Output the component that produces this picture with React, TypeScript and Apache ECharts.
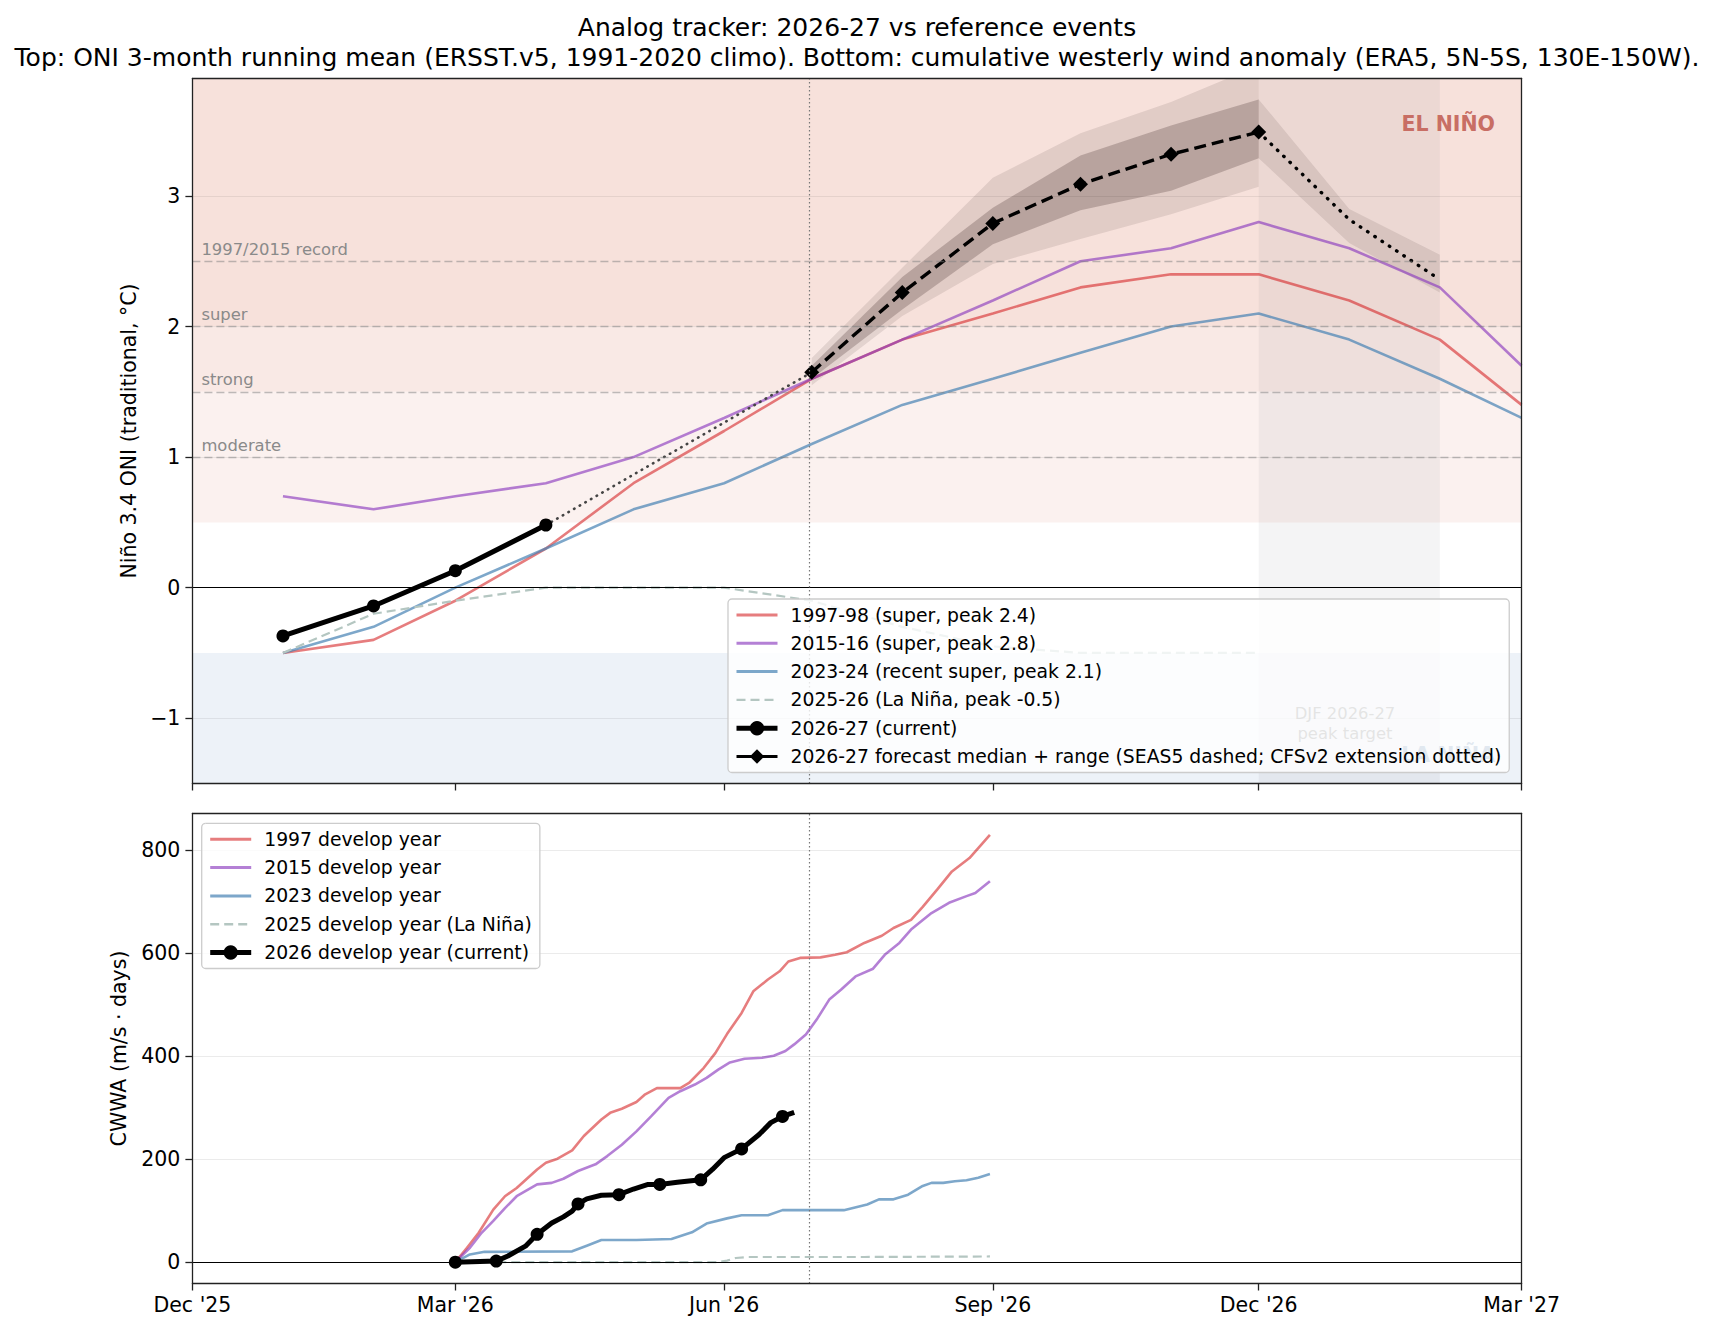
import React, { useEffect, useRef } from 'react';
import * as echarts from 'echarts';

const FONT = 'DejaVu Sans';

// ---------- TOP PANEL DATA (ONI, °C) ----------
const ONI_MONTHS = ['2026-01-01','2026-02-01','2026-03-01','2026-04-01','2026-05-01','2026-06-01','2026-07-01','2026-08-01','2026-09-01','2026-10-01','2026-11-01','2026-12-01','2027-01-01','2027-02-01','2027-03-01'];
const ONI_1997 = [-0.5,-0.4,-0.1,0.3,0.8,1.2,1.6,1.9,2.1,2.3,2.4,2.4,2.2,1.9,1.4];
const ONI_2015 = [0.7,0.6,0.7,0.8,1.0,1.3,1.6,1.9,2.2,2.5,2.6,2.8,2.6,2.3,1.7];
const ONI_2023 = [-0.5,-0.3,0.0,0.3,0.6,0.8,1.1,1.4,1.6,1.8,2.0,2.1,1.9,1.6,1.3];
const ONI_2025 = [-0.5,-0.2,-0.1,0.0,0.0,0.0,-0.1,-0.3,-0.45,-0.5,-0.5,-0.5];
const CUR_MONTHS = ['2026-01-01','2026-02-01','2026-03-01','2026-04-01'];
const ONI_2026 = [-0.37,-0.14,0.13,0.48];
const FC_MONTHS = ['2026-07-01','2026-08-01','2026-09-01','2026-10-01','2026-11-01','2026-12-01'];
const FC_MEDIAN = [1.65,2.26,2.79,3.09,3.32,3.49];
const FC_INNER_LO = [1.60,2.13,2.63,2.89,3.04,3.29];
const FC_INNER_HI = [1.70,2.38,2.91,3.31,3.54,3.74];
const FC_OUTER_LO = [1.55,2.08,2.48,2.67,2.86,3.07];
const FC_OUTER_HI = [1.76,2.45,3.14,3.48,3.72,4.00];
const EXT_MONTHS = ['2026-12-01','2027-01-01','2027-02-01'];
const EXT_MEDIAN = [3.49,2.82,2.36];
const EXT_LO = [3.29,2.64,2.26];
const EXT_HI = [3.74,2.90,2.55];
const THRESHOLDS = [
  { value: 1.0, label: 'moderate' },
  { value: 1.5, label: 'strong' },
  { value: 2.0, label: 'super' },
  { value: 2.5, label: '1997/2015 record' },
];
const TODAY = '2026-06-30';
const DJF = ['2026-12-01', '2027-02-01'];
const X_TICKS = ['2025-12-01','2026-03-01','2026-06-01','2026-09-01','2026-12-01','2027-03-01'];
const ONI_TICKS = [-1, 0, 1, 2, 3];
const CWWA_TICKS = [0, 200, 400, 600, 800];

// ---------- BOTTOM PANEL DATA (CWWA, m/s·days), [days since 1 Mar, value] ----------
const CWWA_1997 = [[0,0],[4,28],[8,57],[13,102],[17,128],[21,144],[28,180],[31,193],[35,201],[40,217],[44,245],[50,277],[53,290],[57,298],[62,311],[65,326],[69,338],[77,338],[80,348],[85,377],[89,406],[93,443],[98,484],[102,526],[107,549],[111,565],[114,584],[118,591],[125,592],[130,597],[134,602],[140,620],[146,634],[150,649],[156,665],[160,690],[165,724],[170,759],[176,785],[183,830]];
const CWWA_2015 = [[0,0],[5,28],[9,57],[13,80],[17,105],[21,128],[28,151],[33,154],[37,162],[42,177],[48,190],[52,206],[57,228],[62,254],[67,283],[73,319],[77,332],[82,345],[86,358],[90,374],[94,388],[99,395],[105,397],[109,401],[113,410],[116,423],[120,442],[124,474],[128,510],[132,529],[137,555],[143,570],[147,597],[152,620],[156,646],[163,678],[169,698],[175,711],[178,717],[183,740]];
const CWWA_2023 = [[0,0],[5,15],[10,20],[40,21],[45,32],[50,43],[62,43],[74,45],[81,58],[86,75],[93,85],[98,91],[107,91],[112,101],[133,101],[141,112],[145,122],[150,122],[155,131],[160,148],[163,154],[167,154],[171,157],[175,159],[179,164],[183,171]];
const CWWA_2025 = [[0,0],[90,0],[93,3],[96,8],[100,10],[140,10],[183,11]];
const CWWA_2026 = [[0,0],[14,2],[18,12],[24,31],[28,54],[33,76],[37,88],[40,99],[42,113],[45,123],[50,130],[56,131],[61,142],[66,151],[70,151],[76,155],[84,160],[88,180],[92,203],[98,220],[104,248],[108,271],[112,283],[116,291]];
const CWWA_2026_MARKER_DAYS = [0,14,28,42,56,70,84,98,112];

// ---------- helpers ----------
const MON = ['Jan','Feb','Mar','Apr','May','Jun','Jul','Aug','Sep','Oct','Nov','Dec'];
const ts = (s: string) => { const [y, m, d] = s.split('-').map(Number); return Date.UTC(y, m - 1, d); };
const dayTs = (d: number) => Date.UTC(2026, 2, 1 + d);
const pairs = (dates: string[], vals: number[]) => vals.map((v, i) => [ts(dates[i]), v]);
const dayPairs = (arr: number[][]) => arr.map(([d, v]) => [dayTs(d), v]);

const C_RED = 'rgb(214,39,40)';
const C_PUR = 'rgb(140,60,190)';
const C_BLU = 'rgb(70,130,180)';
const C_GRY = '#b4c6c1';

const X_MIN = ts('2025-12-01');
const X_MAX = ts('2027-03-01');
const GRID_L = 192.4;
const GRID_W = 1329.2;

const LEGEND_T = ['1997-98 (super, peak 2.4)','2015-16 (super, peak 2.8)','2023-24 (recent super, peak 2.1)','2025-26 (La Niña, peak -0.5)','2026-27 (current)','2026-27 forecast median + range (SEAS5 dashed; CFSv2 extension dotted)'];
const LEGEND_B = ['1997 develop year','2015 develop year','2023 develop year','2025 develop year (La Niña)','2026 develop year (current)'];

function xAxisFor(gridIndex: number, labels: boolean) {
  const tv = X_TICKS.map(ts);
  return {
    type: 'value', gridIndex, min: X_MIN, max: X_MAX, z: 10,
    axisLine: { show: true, onZero: false, lineStyle: { color: '#222', width: 1.3 } },
    axisTick: { show: true, customValues: tv, length: 7, lineStyle: { color: '#222', width: 1.3 } },
    axisLabel: {
      show: labels, customValues: tv, margin: 11, fontSize: 20.5, color: '#000', fontFamily: FONT,
      formatter: (v: number) => { const d = new Date(v); return MON[d.getUTCMonth()] + " '" + String(d.getUTCFullYear()).slice(2); },
    },
    splitLine: { show: false },
  };
}
function frameAxisX(gridIndex: number) {
  return { type: 'value', gridIndex, position: 'top', min: X_MIN, max: X_MAX, z: 10,
    axisLine: { show: true, onZero: false, lineStyle: { color: '#222', width: 1.3 } },
    axisTick: { show: false }, axisLabel: { show: false }, splitLine: { show: false } };
}
function frameAxisY(gridIndex: number, min: number, max: number) {
  return { type: 'value', gridIndex, position: 'right', min, max, z: 10,
    axisLine: { show: true, onZero: false, lineStyle: { color: '#222', width: 1.3 } },
    axisTick: { show: false }, axisLabel: { show: false }, splitLine: { show: false } };
}

function buildOption() {
  const series: any[] = [];
  const helper = (xi: number, yi: number, extra: any) => ({ type: 'line', xAxisIndex: xi, yAxisIndex: yi, data: [], silent: true, symbol: 'none', ...extra });

  // --- top background ---
  series.push(helper(0, 0, {
    z: 1,
    markArea: { silent: true, data: [
      [{ yAxis: 0.5, itemStyle: { color: '#fbf1ef' } }, { yAxis: 1.5 }],
      [{ yAxis: 1.5, itemStyle: { color: '#f9e9e5' } }, { yAxis: 2.0 }],
      [{ yAxis: 2.0, itemStyle: { color: '#f7e1db' } }, { yAxis: 3.9 }],
      [{ yAxis: -1.5, itemStyle: { color: '#edf2f8' } }, { yAxis: -0.5 }],
      [{ xAxis: ts(DJF[0]), itemStyle: { color: 'rgba(100,100,120,0.07)' } }, { xAxis: ts(DJF[1]) }],
    ] },
  }));
  // gridlines + zero line
  series.push(helper(0, 0, {
    z: 1,
    markLine: { silent: true, symbol: ['none', 'none'], label: { show: false },
      data: ONI_TICKS.map(v => ({ yAxis: v, lineStyle: v === 0 ? { color: '#000', width: 1.2, type: 'solid' } : { color: 'rgba(0,0,0,0.07)', width: 1.2, type: 'solid' } })) },
  }));
  // thresholds
  series.push(helper(0, 0, {
    z: 1,
    markLine: { silent: true, symbol: ['none', 'none'],
      lineStyle: { color: 'rgba(128,128,128,0.5)', width: 1.4, type: [8, 4] },
      label: { show: true, position: 'insideStartTop', color: '#8a8a8a', fontSize: 16.4, fontFamily: FONT, distance: [9, 4] },
      data: THRESHOLDS.map(t => ({ yAxis: t.value, label: { formatter: t.label } })) },
  }));
  // today line (top)
  series.push(helper(0, 0, {
    z: 1,
    markLine: { silent: true, symbol: ['none', 'none'], label: { show: false },
      lineStyle: { color: '#777', width: 1.2, type: [1.5, 2.5] }, data: [{ xAxis: ts(TODAY) }] },
  }));

  // forecast range bands (polygons through the axis scales)
  const band = (dates: string[], lo: number[], hi: number[], color: string) => ({
    type: 'custom', xAxisIndex: 0, yAxisIndex: 0, z: 2, silent: true, clip: true,
    data: [[ts(dates[0]), lo[0]]],
    renderItem: (params: any, api: any) => {
      const pts: number[][] = [];
      dates.forEach((d, i) => pts.push(api.coord([ts(d), hi[i]])));
      for (let i = dates.length - 1; i >= 0; i--) pts.push(api.coord([ts(dates[i]), lo[i]]));
      const cs = params.coordSys;
      return {
        type: 'polygon', shape: { points: pts }, style: { fill: color },
        clipPath: { type: 'rect', shape: { x: cs.x, y: cs.y, width: cs.width, height: cs.height } },
      };
    },
  });
  series.push(band(FC_MONTHS, FC_OUTER_LO, FC_OUTER_HI, 'rgba(40,20,20,0.1)'));
  series.push(band(FC_MONTHS, FC_INNER_LO, FC_INNER_HI, 'rgba(40,20,20,0.22)'));
  series.push(band(EXT_MONTHS, EXT_LO, EXT_HI, 'rgba(40,20,20,0.1)'));

  const line = (name: string, xi: number, yi: number, data: any[], color: string, width: number, opacity: number, type: any = 'solid', extra: any = {}) => ({
    type: 'line', name, xAxisIndex: xi, yAxisIndex: yi, z: 3, silent: true, symbol: 'none', data,
    lineStyle: { color, width, opacity, type }, itemStyle: { color, opacity }, ...extra,
  });

  series.push(line(LEGEND_T[0], 0, 0, pairs(ONI_MONTHS, ONI_1997), C_RED, 2.6, 0.6));
  series.push(line(LEGEND_T[1], 0, 0, pairs(ONI_MONTHS, ONI_2015), C_PUR, 2.6, 0.65));
  series.push(line(LEGEND_T[2], 0, 0, pairs(ONI_MONTHS, ONI_2023), C_BLU, 2.6, 0.7));
  series.push(line(LEGEND_T[3], 0, 0, pairs(ONI_MONTHS.slice(0, ONI_2025.length), ONI_2025), C_GRY, 2.2, 1, [9, 5]));
  // connector current -> forecast
  series.push(line('connector', 0, 0, [[ts(CUR_MONTHS[CUR_MONTHS.length - 1]), ONI_2026[ONI_2026.length - 1]], [ts(FC_MONTHS[0]), FC_MEDIAN[0]]], '#444', 2.6, 1, [0.5, 6], { lineStyle: { color: '#444', width: 2.6, type: [0.5, 6], cap: 'round' } }));
  // extension dotted
  series.push(line('extension', 0, 0, pairs(EXT_MONTHS, EXT_MEDIAN), '#000', 3.4, 1, [0.5, 8.2], { lineStyle: { color: '#000', width: 3.4, type: [0.5, 8.2], cap: 'round' } }));
  series.push(line(LEGEND_T[4], 0, 0, pairs(CUR_MONTHS, ONI_2026), '#000', 5, 1, 'solid', { symbol: 'circle', symbolSize: 13, showSymbol: true, z: 4 }));
  series.push(line(LEGEND_T[5], 0, 0, pairs(FC_MONTHS, FC_MEDIAN), '#000', 3.4, 1, [12, 6], { symbol: 'diamond', symbolSize: 15, showSymbol: true, z: 4 }));

  // --- bottom panel ---
  series.push(helper(1, 1, {
    z: 1,
    markLine: { silent: true, symbol: ['none', 'none'], label: { show: false },
      data: CWWA_TICKS.map(v => ({ yAxis: v, lineStyle: v === 0 ? { color: '#000', width: 1.2, type: 'solid' } : { color: 'rgba(0,0,0,0.08)', width: 1.2, type: 'solid' } })) },
  }));
  series.push(helper(1, 1, {
    z: 1,
    markLine: { silent: true, symbol: ['none', 'none'], label: { show: false },
      lineStyle: { color: '#777', width: 1.2, type: [1.5, 2.5] }, data: [{ xAxis: ts(TODAY) }] },
  }));
  series.push(line(LEGEND_B[0], 1, 1, dayPairs(CWWA_1997), C_RED, 2.6, 0.6));
  series.push(line(LEGEND_B[1], 1, 1, dayPairs(CWWA_2015), C_PUR, 2.6, 0.65));
  series.push(line(LEGEND_B[2], 1, 1, dayPairs(CWWA_2023), C_BLU, 2.6, 0.7));
  series.push(line(LEGEND_B[3], 1, 1, dayPairs(CWWA_2025), C_GRY, 2.2, 1, [9, 5]));
  series.push(line(LEGEND_B[4], 1, 1,
    CWWA_2026.map(([d, v]) => CWWA_2026_MARKER_DAYS.includes(d) ? { value: [dayTs(d), v] } : { value: [dayTs(d), v], symbol: 'none' }),
    '#000', 5, 1, 'solid', { symbol: 'circle', symbolSize: 13, showSymbol: true, showAllSymbol: true, z: 4 }));

  const legendCommon = {
    orient: 'vertical', itemWidth: 41, itemHeight: 18, itemGap: 6.3,
    backgroundColor: 'rgba(255,255,255,0.8)', borderColor: '#cccccc', borderWidth: 1.3, borderRadius: 4,
    textStyle: { fontSize: 18.8, color: '#000', fontFamily: FONT, lineHeight: 22, padding: [0, 0, 0, 8] },
    selectedMode: false, z: 6,
  };
  const lineOnly = (n: string, dashed = false) => ({ name: n, itemStyle: { opacity: 0 }, lineStyle: { width: dashed ? 2.4 : 3 } });
  const legendTop = [
    lineOnly(LEGEND_T[0]), lineOnly(LEGEND_T[1]), lineOnly(LEGEND_T[2]), lineOnly(LEGEND_T[3], true),
    { name: LEGEND_T[4], lineStyle: { width: 5 } },
    { name: LEGEND_T[5], lineStyle: { width: 2.8, type: 'solid' } },
  ];
  const legendBottom = [
    lineOnly(LEGEND_B[0]), lineOnly(LEGEND_B[1]), lineOnly(LEGEND_B[2]), lineOnly(LEGEND_B[3], true),
    { name: LEGEND_B[4], lineStyle: { width: 5 } },
  ];

  return {
    animation: false,
    backgroundColor: '#fff',
    textStyle: { fontFamily: FONT },
    title: [
      { text: 'Analog tracker: 2026-27 vs reference events', left: 'center', top: 12, padding: 0,
        textStyle: { fontSize: 25, fontWeight: 'normal', color: '#000', lineHeight: 30, fontFamily: FONT } },
      { text: 'Top: ONI 3-month running mean (ERSST.v5, 1991-2020 climo). Bottom: cumulative westerly wind anomaly (ERA5, 5N-5S, 130E-150W).', left: 'center', top: 42, padding: 0,
        textStyle: { fontSize: 25, fontWeight: 'normal', color: '#000', lineHeight: 30, fontFamily: FONT } },
    ],
    grid: [
      { left: GRID_L, top: 78.5, width: GRID_W, height: 705, show: false, containLabel: false },
      { left: GRID_L, top: 813.5, width: GRID_W, height: 470, show: false, containLabel: false },
    ],
    xAxis: [xAxisFor(0, false), xAxisFor(1, true), frameAxisX(0), frameAxisX(1)],
    yAxis: [
      {
        type: 'value', gridIndex: 0, min: -1.5, max: 3.9, z: 10,
        name: 'Niño 3.4 ONI (traditional, °C)', nameLocation: 'middle', nameGap: 52,
        nameTextStyle: { fontSize: 20.5, color: '#000', fontFamily: FONT },
        axisLine: { show: true, onZero: false, lineStyle: { color: '#222', width: 1.3 } },
        axisTick: { show: true, customValues: ONI_TICKS, length: 7, lineStyle: { color: '#222', width: 1.3 } },
        axisLabel: { customValues: ONI_TICKS, margin: 12, fontSize: 20.5, color: '#000', fontFamily: FONT,
          formatter: (v: number) => (v < 0 ? '\u2212' + Math.abs(v) : String(v)) },
        splitLine: { show: false },
      },
      {
        type: 'value', gridIndex: 1, min: -41.5, max: 871.5, z: 10,
        name: 'CWWA (m/s · days)', nameLocation: 'middle', nameGap: 63,
        nameTextStyle: { fontSize: 20.5, color: '#000', fontFamily: FONT },
        axisLine: { show: true, onZero: false, lineStyle: { color: '#222', width: 1.3 } },
        axisTick: { show: true, customValues: CWWA_TICKS, length: 7, lineStyle: { color: '#222', width: 1.3 } },
        axisLabel: { customValues: CWWA_TICKS, margin: 12, fontSize: 20.5, color: '#000', fontFamily: FONT },
        splitLine: { show: false },
      },
      frameAxisY(0, -1.5, 3.9),
      frameAxisY(1, -41.5, 871.5),
    ],
    legend: [
      { ...legendCommon, data: legendTop, left: 728, top: 599, padding: [5, 8, 5, 6] },
      { ...legendCommon, data: legendBottom, left: 201.7, top: 823.3, padding: [5, 8, 5, 6] },
    ],
    graphic: [
      { type: 'text', z: 3, x: 1495, y: 124, style: { text: 'EL NIÑO', fill: '#c86e64', font: `bold 20.5px "${FONT}"`, textAlign: 'right', textVerticalAlign: 'middle' } },
      { type: 'text', z: 3, x: 1495, y: 755, style: { text: 'LA NIÑA', fill: '#6a8cb4', font: `bold 20.5px "${FONT}"`, textAlign: 'right', textVerticalAlign: 'middle' } },
      { type: 'text', z: 3, x: 1345, y: 723, style: { text: 'DJF 2026-27\npeak target', fill: '#777', font: `16.4px "${FONT}"`, textAlign: 'center', textVerticalAlign: 'middle', lineHeight: 20 } },
    ],
    series,
  };
}

export default function App() {
  const ref = useRef<HTMLDivElement>(null);
  useEffect(() => {
    const chart = echarts.init(ref.current!, null, { renderer: 'svg' });
    chart.setOption(buildOption() as any);
    return () => chart.dispose();
  }, []);
  return <div ref={ref} style={{ position: 'fixed', left: 0, top: 0, width: 1714, height: 1334, background: '#fff' }} />;
}
